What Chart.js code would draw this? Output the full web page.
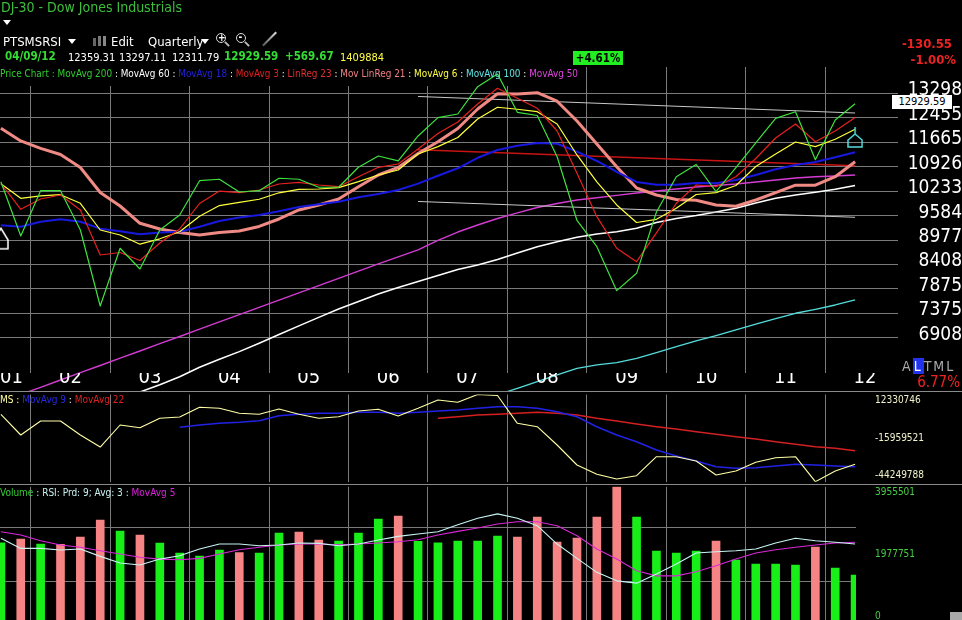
<!DOCTYPE html>
<html><head><meta charset="utf-8">
<script src="https://cdn.jsdelivr.net/npm/chart.js@4.4.1/dist/chart.umd.min.js"></script>
<style>
html,body{margin:0;padding:0;background:#000;width:962px;height:620px;overflow:hidden;font-family:'DejaVu Sans Condensed','DejaVu Sans',sans-serif;}
canvas{position:absolute;left:0;z-index:0;}
.t{position:absolute;white-space:nowrap;line-height:1;z-index:2;}
.w{color:#fff}
.sep{position:absolute;left:0;width:962px;height:1px;background:#8a8a8a;z-index:3;}
.tri{position:absolute;width:0;height:0;border-left:4px solid transparent;border-right:4px solid transparent;border-top:5px solid #fff;z-index:2;}
</style></head><body>
<canvas id="price" width="962" height="391" style="top:0"></canvas>
<canvas id="ms" width="962" height="93" style="top:391px"></canvas>
<canvas id="vol" width="962" height="140" style="top:484px"></canvas>
<div class="sep" style="top:391px"></div>
<div class="sep" style="top:484px"></div>

<div class="t" style="left:1px;top:0px;font-size:14px;color:#3dbf3d">DJ-30 - Dow Jones Industrials</div>
<div class="tri" style="left:3px;top:20px"></div>
<div class="t w" style="left:3px;top:35px;font-size:13px">PTSMSRSI</div>
<div class="tri" style="left:68px;top:39px"></div>
<div style="position:absolute;left:93px;top:38px;width:3px;height:8px;background:#666;z-index:2"></div>
<div style="position:absolute;left:98px;top:36px;width:3px;height:10px;background:#777;z-index:2"></div>
<div style="position:absolute;left:103px;top:36px;width:3px;height:10px;background:#888;z-index:2"></div>
<div class="t w" style="left:111px;top:35px;font-size:13px">Edit</div>
<div class="t w" style="left:148px;top:35px;font-size:13px">Quarterly</div>
<div class="tri" style="left:201px;top:39px"></div>
<div style="position:absolute;left:216px;top:33px;width:8px;height:8px;border:1.5px solid #ddd;border-radius:50%;z-index:2"></div>
<div class="t w" style="left:218px;top:33px;font-size:10px;font-weight:bold">+</div>
<div style="position:absolute;left:224px;top:43px;width:6px;height:2px;background:#bbb;transform:rotate(45deg);z-index:2"></div>
<div style="position:absolute;left:236px;top:33px;width:8px;height:8px;border:1.5px solid #ddd;border-radius:50%;z-index:2"></div>
<div class="t w" style="left:238.5px;top:32px;font-size:10px;font-weight:bold">-</div>
<div style="position:absolute;left:244px;top:43px;width:6px;height:2px;background:#bbb;transform:rotate(45deg);z-index:2"></div>
<div style="position:absolute;left:260px;top:38px;width:19px;height:2px;background:linear-gradient(90deg,#555,#ddd);transform:rotate(-45deg);z-index:2"></div>

<div class="t" style="left:5px;top:51px;font-size:11.5px;font-weight:bold;color:#33dd33">04/09/12</div>
<div class="t w" style="left:68px;top:52px;font-size:11px">12359.31</div>
<div class="t w" style="left:119px;top:52px;font-size:11px">13297.11</div>
<div class="t w" style="left:172px;top:52px;font-size:11px">12311.79</div>
<div class="t" style="left:224px;top:51px;font-size:11.5px;font-weight:bold;color:#33dd33">12929.59</div>
<div class="t" style="left:285px;top:51px;font-size:11.5px;font-weight:bold;color:#33dd33">+569.67</div>
<div class="t" style="left:340px;top:52px;font-size:11px;color:#ffff44">1409884</div>
<div class="t" style="left:573px;top:51px;width:50px;height:14px;line-height:14px;text-align:center;background:#22ee22;color:#000;font-size:11.5px;font-weight:bold">+4.61%</div>
<div class="t" style="right:10px;top:37px;font-size:13px;font-weight:bold;color:#ee2222">-130.55</div>
<div class="t" style="right:6px;top:53px;font-size:13px;font-weight:bold;color:#ee2222">-1.00%</div>

<div class="t" style="left:0;top:69px;font-size:9.9px"><span style="color:#33cc33">Price Chart : MovAvg 200</span><span class="w"> : MovAvg 60 : </span><span style="color:#2222dd">MovAvg 18</span><span class="w"> : </span><span style="color:#e02020">MovAvg 3</span><span class="w"> : </span><span style="color:#e03030">LinReg 23</span><span class="w"> : </span><span style="color:#f08080">Mov LinReg 21</span><span class="w"> : </span><span style="color:#ffff40">MovAvg 6</span><span class="w"> : </span><span style="color:#60e0e0">MovAvg 100</span><span class="w"> : </span><span style="color:#dd44dd">MovAvg 50</span></div>

<div class="t" style="left:892px;top:95px;width:60px;height:14px;line-height:14px;text-align:center;background:#fff;color:#000;font-size:11px">12929.59</div>
<div class="t" style="left:902px;top:359px;font-size:14px;color:#aaa;letter-spacing:2px">A<span style="background:#2233ee;color:#fff;padding:0 1px">L</span>TML</div>
<div class="t" style="right:2px;top:375px;font-size:15px;color:#ee2222">6.77%</div>

<div class="t" style="left:0;top:395px;font-size:10px"><span style="color:#ffffa0">MS : </span><span style="color:#2828e0">MovAvg 9</span><span class="w"> : </span><span style="color:#dd2222">MovAvg 22</span></div>
<div class="t" style="left:0;top:488px;font-size:10px"><span style="color:#33cc33">Volume</span><span style="color:#c8f0f0"> : RSI: Prd: 9; Avg: 3 : </span><span style="color:#dd22dd">MovAvg 5</span></div>
<div style="position:absolute;left:950px;top:612px;width:12px;height:8px;background:#aaa;z-index:2"></div>

<script>
// ---------------- DATA ----------------
const quarters = ['2001-Q3','2001-Q4','2002-Q1','2002-Q2','2002-Q3','2002-Q4','2003-Q1','2003-Q2','2003-Q3','2003-Q4','2004-Q1','2004-Q2','2004-Q3','2004-Q4','2005-Q1','2005-Q2','2005-Q3','2005-Q4','2006-Q1','2006-Q2','2006-Q3','2006-Q4','2007-Q1','2007-Q2','2007-Q3','2007-Q4','2008-Q1','2008-Q2','2008-Q3','2008-Q4','2009-Q1','2009-Q2','2009-Q3','2009-Q4','2010-Q1','2010-Q2','2010-Q3','2010-Q4','2011-Q1','2011-Q2','2011-Q3','2011-Q4','2012-Q1','2012-Q2'];
const yearLabels = ['01','02','03','04','05','06','07','08','09','10','11','12'];
const priceTicks = [6908,7375,7875,8408,8977,9584,10233,10926,11665,12455,13298];
const msTicks = [-44249788,-15959521,12330746];
const volumeTicks = [0,1977751,3955501];
const rsiLevels = [30,70];

const priceClose = [10495,9075,10245,10245,9221,7523,8781,8307,9221,9600,10523,10563,10209,10245,10591,10563,10339,10339,10907,11242,11097,11861,12457,12581,13535,14004,12638,12531,11221,9459,8818,7838,8211,9677,10636,10989,10217,10896,11641,12436,12658,11132,12380,12930];
const movAvg3 = [10451,9746,10019,10127,9729,8624,8682,8498,8906,9246,9899,10235,10194,10264,10430,10477,10402,10355,10636,10907,11004,11455,11940,12314,12922,13477,13121,12774,12020,10734,9556,8781,8471,9148,9904,10402,10355,10636,11168,11798,12249,11681,12020,12463];
const movAvg6 = [10439,10038,10101,10135,9904,9221,9098,8877,9006,9178,9565,9845,9927,10012,10187,10283,10291,10327,10495,10685,10829,11302,11527,11813,12414,12809,12741,12658,12249,11273,10487,9860,9408,9489,9773,10141,10190,10388,10931,11302,11672,11527,11757,12076];
const movAvg18 = [9341,9303,9428,9489,9428,9254,9188,9116,9160,9178,9303,9446,9535,9600,9696,9807,9878,9948,10066,10154,10264,10439,10662,10878,11189,11425,11553,11641,11618,11373,11093,10771,10487,10411,10411,10459,10451,10543,10685,10850,10975,11063,11203,11355];
const movLinReg21 = [12108,11704,11476,11288,10901,10194,9833,9388,9246,9160,9098,9160,9197,9309,9497,9729,9860,10019,10355,10685,10901,11318,11681,12101,12751,13283,13273,13319,13019,12347,11609,10924,10319,10127,10005,9984,9860,9826,9993,10194,10396,10396,10636,11072];
const movAvg50 = [null,5936,6051,6170,6292,6415,6542,6669,6800,6933,7070,7208,7350,7495,7641,7791,7944,8100,8258,8420,8579,8741,8967,9171,9346,9509,9652,9794,9900,9993,10052,10118,10182,10235,10291,10347,10388,10430,10487,10543,10600,10636,10656,10685];
const movAvg60 = [null,null,null,null,null,null,null,5975,6092,6225,6384,6522,6657,6809,6971,7132,7296,7463,7614,7769,7906,8033,8163,8295,8396,8521,8670,8818,8937,9044,9124,9180,9263,9408,9509,9586,9677,9773,9912,10038,10127,10201,10286,10388];
const movAvg100 = [null,null,null,null,null,null,null,null,null,null,null,null,null,null,null,null,null,null,null,null,null,null,null,null,null,5931,6035,6142,6254,6367,6424,6463,6540,6639,6746,6850,6948,7055,7164,7271,7378,7456,7543,7645];
const linRegQuarters = ['2006-Q4','2012-Q2'];
const linRegMid = [11434,10954];
const linRegUpper = [13185,12614];
const linRegLower = [9953,9540];
const alertQuarters = ['2001-Q3','2012-Q2'];
const alertLevels = [9006,11766];

const msLine = [-520000,-13950000,-4870000,-4870000,-13950000,-21740000,-7460000,-9210000,-3110000,-2270000,4020000,3380000,130000,-520000,2920000,-520000,-3110000,-2080000,1620000,2730000,-1620000,3380000,8760000,7270000,12330746,11680000,-6360000,-8560000,-20440000,-33420000,-39450000,-42500000,-40360000,-28030000,-28030000,-30820000,-39910000,-37310000,-31670000,-28680000,-28030000,-44249788,-37310000,-32960000];
const msMovAvg9 = [null,null,null,null,null,null,null,null,null,-8950000,-7460000,-6360000,-5710000,-4670000,-1430000,-520000,130000,130000,780000,780000,130000,780000,1620000,2270000,3380000,4410000,4410000,3380000,1170000,-2080000,-8560000,-13950000,-18300000,-23680000,-27580000,-30820000,-34520000,-35560000,-35170000,-34070000,-32960000,-33420000,-34070000,-34520000];
const msMovAvg22 = [null,null,null,null,null,null,null,null,null,null,null,null,null,null,null,null,null,null,null,null,null,null,-3110000,-2080000,-970000,-520000,130000,780000,130000,-970000,-3110000,-4870000,-6810000,-8560000,-10060000,-11810000,-13500000,-15050000,-16550000,-18300000,-19980000,-21540000,-22580000,-24140000];

const volume = [2318000,2427000,2280000,2272000,2485000,2982000,2660000,2544000,2310000,2017000,1930000,2105000,2026000,2017000,2602000,2631000,2397000,2368000,2602000,3011000,3099000,2359000,2318000,2368000,2368000,2514000,2485000,3070000,2339000,2456000,3070000,3955501,3070000,2076000,2017000,2076000,2368000,1813000,1696000,1696000,1666000,2193000,1579000,1374000];
const volumeUp = [1,0,1,0,0,0,1,0,1,1,1,1,0,1,1,0,0,1,1,1,0,1,1,1,1,1,0,0,0,0,0,0,1,1,1,1,0,1,1,1,1,0,1,1];
const rsi = [61.9,54.4,54.4,53.2,53.9,48.5,43.6,42.1,46.5,49.0,53.9,57.6,57.6,56.4,56.9,58.4,58.1,56.4,57.6,60.6,63.3,65.0,66.7,71.9,76.7,79.9,76.7,71.2,57.6,47.0,36.7,30.4,28.7,35.4,42.8,51.0,51.9,52.7,53.9,58.4,61.9,60.1,58.9,57.6];
const rsiMovAvg5 = [66.7,64.3,60.1,56.9,55.2,52.7,50.2,47.8,46.5,46.0,47.0,50.2,53.4,55.2,56.9,57.6,57.6,57.1,57.6,58.4,59.3,60.8,64.3,67.0,69.5,72.4,74.1,74.1,71.2,63.8,53.9,46.5,37.9,34.1,34.1,37.1,41.6,46.5,51.0,53.4,55.2,56.9,58.4,58.9];

// ---------------- HELPERS ----------------
const FONT = "'DejaVu Sans Condensed','DejaVu Sans',sans-serif";
const GRID = '#7a7a7a';
const X_MIN = 2001.6137, X_MAX_PRICE = 2012.915, X_MAX_SUB = 2012.3864;
const gridYears = yearLabels.slice(1).map(l => 2000 + Number(l));
const qx = q => { const p = q.split('-Q'); return Number(p[0]) + (Number(p[1]) - 0.5) / 4; };
const series = (vals, qs = quarters) => qs.map((q, i) => vals[i] == null ? null : {x: qx(q), y: vals[i]}).filter(Boolean);
const CLIP = {left: 0, right: 0, top: false, bottom: false};
const noPad = s => { s.paddingTop = 0; s.paddingBottom = 0; s.paddingLeft = 0; s.paddingRight = 0; };

function xGrid(max) {
  return {type: 'linear', position: 'bottom', min: X_MIN, max: max, offset: false,
    grid: {color: GRID, lineWidth: 1, drawTicks: false, offset: false}, border: {display: false},
    ticks: {display: false},
    afterBuildTicks: s => { s.ticks = gridYears.map(v => ({value: v})); },
    afterFit: s => { noPad(s); s.height = 0; }};
}
function lineDs(label, vals, color, width, extra) {
  return Object.assign({type: 'line', label: label, data: series(vals), borderColor: color, borderWidth: width,
    pointRadius: 0, tension: 0, fill: false, borderJoinStyle: 'round'}, extra || {});
}
function houseImg(color, stem) {
  const c = document.createElement('canvas'); c.width = 16; c.height = 24;
  const g = c.getContext('2d'); g.strokeStyle = color; g.lineWidth = 1.5; g.beginPath();
  if (stem) { g.moveTo(8, 0); g.lineTo(8, 7); g.moveTo(8, 7); g.lineTo(15, 13); g.lineTo(15, 20); g.lineTo(1, 20); g.lineTo(1, 13); g.closePath(); }
  else { g.moveTo(8, 1.5); g.lineTo(15, 13); g.lineTo(15, 22); g.lineTo(1, 22); g.lineTo(1, 13); g.closePath(); }
  g.stroke(); return c;
}
const common = {responsive: false, animation: false, events: [],
  plugins: {legend: {display: false}, tooltip: {enabled: false}}};
const legendMask = {id: 'legendMask', beforeDatasetsDraw(chart) {
  const a = chart.chartArea, ctx = chart.ctx; ctx.save(); ctx.fillStyle = '#000';
  ctx.fillRect(a.left, a.top - 1, 582, 20); ctx.restore(); }};
const edgeLabels = (v, i, t) => i === t.length - 1 ? ['', String(v)] : (i === 0 ? [String(v), ''] : String(v));

// ---------------- PRICE PANEL ----------------
new Chart(document.getElementById('price'), {
  type: 'line',
  data: {datasets: [
    {type: 'line', label: 'alerts', data: series(alertLevels, alertQuarters), showLine: false,
      pointStyle: [houseImg('#ffffff', false), houseImg('#55dddd', true)], pointRadius: 8, clip: {left: 0, right: false, top: false, bottom: false}},
    lineDs('Price', priceClose, '#3ee23e', 1.2, {clip: CLIP}),
    lineDs('MovAvg 3', movAvg3, '#e82020', 1.2, {clip: CLIP}),
    lineDs('MovAvg 6', movAvg6, '#ffff3c', 1.2, {clip: CLIP}),
    lineDs('MovAvg 18', movAvg18, '#1818e0', 2, {clip: CLIP}),
    lineDs('Mov LinReg 21', movLinReg21, '#f08a84', 3, {clip: CLIP}),
    {type: 'line', label: 'LinReg 23', data: series(linRegMid, linRegQuarters), borderColor: '#c81414', borderWidth: 1.6, pointRadius: 0, clip: CLIP},
    {type: 'line', label: 'LinReg upper', data: series(linRegUpper, linRegQuarters), borderColor: '#c8c8c8', borderWidth: 1, pointRadius: 0, clip: CLIP},
    {type: 'line', label: 'LinReg lower', data: series(linRegLower, linRegQuarters), borderColor: '#c8c8c8', borderWidth: 1, pointRadius: 0, clip: CLIP},
    lineDs('MovAvg 100', movAvg100, '#55dcdc', 1.3, {clip: CLIP}),
    lineDs('MovAvg 60', movAvg60, '#ffffff', 1.5, {clip: CLIP}),
    lineDs('MovAvg 50', movAvg50, '#d23cd2', 1.4, {clip: CLIP})
  ]},
  options: Object.assign({}, common, {
    layout: {padding: {top: 67, left: 0, right: 0, bottom: 0}, autoPadding: false},
    scales: {
      x: xGrid(X_MAX_PRICE),
      xl: {type: 'linear', position: 'bottom', min: X_MIN, max: X_MAX_PRICE, offset: false,
        grid: {display: false, drawTicks: false}, border: {display: false},
        afterBuildTicks: s => { s.ticks = yearLabels.map(l => ({value: Math.max(2000 + Number(l) + 0.5, s.min + 0.145)})); },
        afterFit: s => { noPad(s); s.height = 18; },
        ticks: {color: '#ffffff', font: {family: FONT, size: 20}, padding: -7.5, maxRotation: 0, minRotation: 0,
          autoSkip: false, z: 1, callback: (v, i) => yearLabels[i]}},
      y: {type: 'logarithmic', position: 'right', min: 6287, max: 14268,
        grid: {color: GRID, lineWidth: 1, drawTicks: false}, border: {display: false},
        afterBuildTicks: s => { s.ticks = priceTicks.map(v => ({value: v})); },
        afterFit: s => { noPad(s); s.width = 64; },
        ticks: {color: '#ffffff', font: {family: FONT, size: 19}, padding: 0, crossAlign: 'far', labelOffset: -3,
          autoSkip: false, callback: v => String(v)}}
    }
  }),
  plugins: [legendMask]
});

// ---------------- MS PANEL ----------------
new Chart(document.getElementById('ms'), {
  type: 'line',
  data: {datasets: [
    lineDs('MS', msLine, '#ffffa8', 1.1),
    lineDs('MovAvg 9', msMovAvg9, '#2222e6', 1.6),
    lineDs('MovAvg 22', msMovAvg22, '#d42020', 1.4)
  ]},
  options: Object.assign({}, common, {
    layout: {padding: {top: 3.5, left: 0, right: 0, bottom: 2.3}, autoPadding: false},
    scales: {
      x: xGrid(X_MAX_SUB),
      y: {type: 'linear', position: 'right', min: msTicks[0], max: msTicks[msTicks.length - 1],
        grid: {display: false, drawTicks: false}, border: {display: false},
        afterBuildTicks: s => { s.ticks = msTicks.map(v => ({value: v})); },
        afterFit: s => { noPad(s); s.width = 106; },
        ticks: {color: '#f2f2cc', font: {family: FONT, size: 10}, padding: 19, crossAlign: 'near', autoSkip: false,
          callback: edgeLabels}}
    }
  })
});

// ---------------- VOLUME / RSI PANEL ----------------
new Chart(document.getElementById('vol'), {
  type: 'bar',
  data: {datasets: [
    lineDs('RSI', rsi, '#c8f4f4', 1.1, {yAxisID: 'rsi'}),
    lineDs('MovAvg 5', rsiMovAvg5, '#d828d8', 1.1, {yAxisID: 'rsi'}),
    {type: 'bar', label: 'Volume', data: series(volume), yAxisID: 'y', barThickness: 8,
      backgroundColor: volumeUp.map(u => u ? '#18ee18' : '#f68484'), borderWidth: 0}
  ]},
  options: Object.assign({}, common, {
    layout: {padding: {top: 2.7, left: 0, right: 0, bottom: 2}, autoPadding: false},
    scales: {
      x: xGrid(X_MAX_SUB),
      y: {type: 'linear', position: 'right', min: volumeTicks[0], max: volumeTicks[volumeTicks.length - 1],
        grid: {display: false, drawTicks: false}, border: {display: false},
        afterBuildTicks: s => { s.ticks = volumeTicks.map(v => ({value: v})); },
        afterFit: s => { noPad(s); s.width = 106; },
        ticks: {color: '#44cc44', font: {family: FONT, size: 10}, padding: 19, crossAlign: 'near', autoSkip: false,
          callback: edgeLabels}},
      rsi: {type: 'linear', position: 'left', min: 0, max: 100,
        grid: {color: GRID, lineWidth: 1, drawTicks: false}, border: {display: false},
        ticks: {display: false},
        afterBuildTicks: s => { s.ticks = rsiLevels.map(v => ({value: v})); },
        afterFit: s => { noPad(s); s.width = 0; }}
    }
  })
});
</script>
</body></html>
